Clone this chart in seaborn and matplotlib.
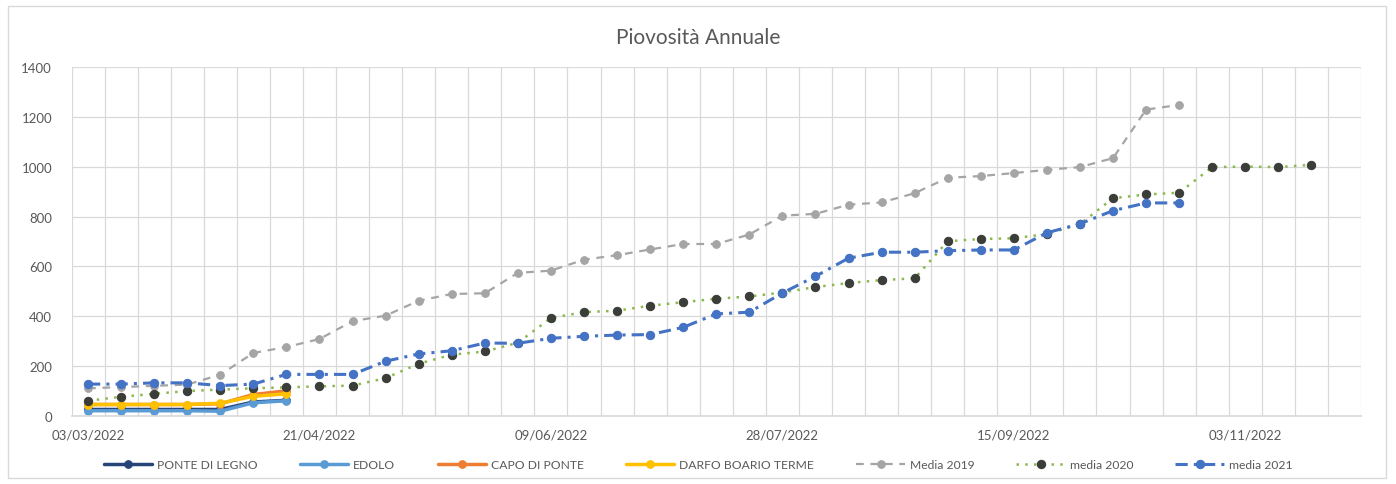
import matplotlib
matplotlib.use("Agg")
import matplotlib.pyplot as plt
import matplotlib.patches as mpatches
import numpy as np
import pandas as pd
import seaborn as sns

# Weekly categories starting 03/03/2022
n_weeks = 39
tick_positions = [0, 7, 14, 21, 28, 35]
tick_labels = ["03/03/2022", "21/04/2022", "09/06/2022", "28/07/2022", "15/09/2022", "03/11/2022"]

# Station cumulative rainfall (mm), first weeks of the season
ponte_di_legno = [25, 25, 25, 25, 25, 55, 62]
edolo = [20, 20, 20, 20, 18, 52, 60]
capo_di_ponte = [45, 45, 45, 45, 48, 85, 100]
darfo_boario_terme = [45, 45, 45, 45, 50, 78, 88]

# Historical averages (mm)
media_2019 = [110, 115, 120, 125, 165, 252, 276, 308, 380, 402, 462, 489, 492, 574, 583,
              627, 645, 668, 690, 690, 728, 804, 811, 848, 857, 894, 956, 963, 975, 988,
              999, 1035, 1230, 1249]
media_2020 = [60, 76, 88, 99, 105, 110, 114, 118, 121, 151, 209, 245, 258, 293, 393, 416,
              422, 442, 456, 470, 479, 495, 517, 533, 545, 552, 701, 710, 713, 730, 770,
              874, 889, 896, 999, 1001, 999, 1008]
media_2021 = [127, 127, 132, 132, 121, 127, 166, 166, 166, 219, 248, 261, 292, 291, 311,
              319, 324, 326, 355, 409, 416, 493, 560, 633, 657, 657, 663, 666, 666, 735,
              771, 824, 855, 855]

sns.set_theme(style="white")
plt.rcParams["font.family"] = ["Lato", "DejaVu Sans"]
text_color = "#595959"
grid_color = "#D9D9D9"

fig = plt.figure(figsize=(13.96, 4.85), dpi=100)
fig.patch.set_facecolor("white")
fig.add_artist(mpatches.Rectangle((8 / 1396, 6 / 485), 1378 / 1396, 472 / 485,
                                  transform=fig.transFigure, fill=False,
                                  edgecolor="#D9D9D9", linewidth=1.0))
ax = fig.add_axes([71.5 / 1396, 1 - 416.7 / 485, (1361 - 71.5) / 1396, (416.7 - 68.3) / 485])

series = [
    ("PONTE DI LEGNO", ponte_di_legno, dict(color="#264478", linestyle="-", linewidth=2.5,
                                            marker="o", markersize=5.5, markerfacecolor="#264478",
                                            markeredgecolor="#264478")),
    ("EDOLO", edolo, dict(color="#5B9BD5", linestyle="-", linewidth=2.5,
                          marker="o", markersize=5.5, markerfacecolor="#5B9BD5",
                          markeredgecolor="#5B9BD5")),
    ("CAPO DI PONTE", capo_di_ponte, dict(color="#ED7D31", linestyle="-", linewidth=2.5,
                                          marker="o", markersize=5.5, markerfacecolor="#ED7D31",
                                          markeredgecolor="#ED7D31")),
    ("DARFO BOARIO TERME", darfo_boario_terme, dict(color="#FFC000", linestyle="-", linewidth=2.5,
                                                    marker="o", markersize=5.5,
                                                    markerfacecolor="#FFC000",
                                                    markeredgecolor="#FFC000")),
    ("Media 2019", media_2019, dict(color="#A5A5A5", linestyle=(0, (3.5, 3)), linewidth=1.6,
                                    marker="o", markersize=5.5, markerfacecolor="#A5A5A5",
                                    markeredgecolor="#A5A5A5")),
    ("media 2020", media_2020, dict(color="#8CB94F", linestyle=(0, (1, 2.5)), linewidth=1.8,
                                    marker="o", markersize=6, markerfacecolor="#3A3D38",
                                    markeredgecolor="#3A3D38")),
    ("media 2021", media_2021, dict(color="#4472C4", linestyle=(0, (4, 2, 1, 2)), linewidth=2.2,
                                    marker="o", markersize=6, markerfacecolor="#4472C4",
                                    markeredgecolor="#4472C4")),
]

for name, values, style in series:
    x = np.arange(len(values))
    sns.lineplot(x=x, y=values, ax=ax, label=name, sort=False, **style)

ax.set_xlim(-0.5, n_weeks - 0.5)
ax.set_ylim(0, 1400)
ax.set_yticks(range(0, 1401, 200))
ax.set_xticks(tick_positions)
ax.set_xticklabels(tick_labels)
ax.grid(False)
for b in np.arange(-0.5, n_weeks, 1):
    ax.axvline(b, color=grid_color, linewidth=0.9, zorder=0)
for v in range(200, 1401, 200):
    ax.axhline(v, color=grid_color, linewidth=0.9, zorder=0)
for s in ["top", "right", "left"]:
    ax.spines[s].set_visible(False)
ax.spines["bottom"].set_color(grid_color)
ax.tick_params(axis="both", which="both", length=0, colors=text_color, labelsize=9.5)
ax.tick_params(axis="y", pad=14)
ax.tick_params(axis="x", pad=9)
ax.set_xlabel("")
ax.set_ylabel("")

fig.text(0.5, 1 - 38 / 485, "Piovosità Annuale", ha="center", va="center",
         fontsize=15, color=text_color)

handles, labels = ax.get_legend_handles_labels()
ax.get_legend().remove()
fig.legend(handles, labels, loc="center", bbox_to_anchor=(0.5, 1 - 466 / 485), ncol=7,
           frameon=False, fontsize=8.7, labelcolor=text_color, handlelength=4,
           columnspacing=3.5, handletextpad=0.4)

fig.savefig("out.png", dpi=100, facecolor="white")
